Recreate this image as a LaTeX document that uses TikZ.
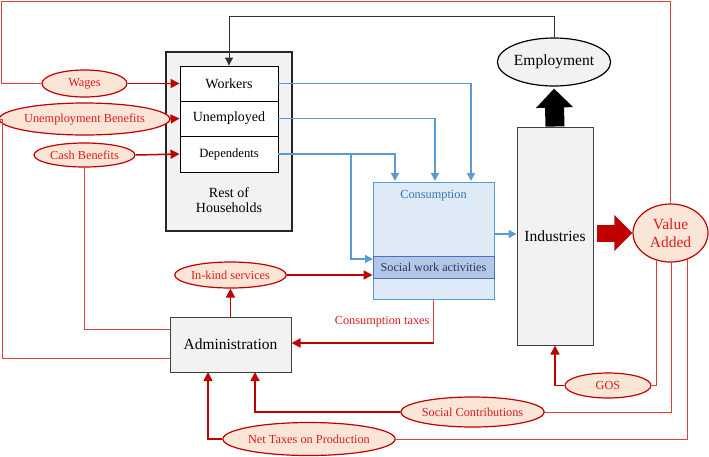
\documentclass[tikz,border=0pt]{standalone}
\usepackage{fontspec}
\setmainfont{Liberation Serif}
\usetikzlibrary{arrows.meta,shapes.geometric,calc}
\definecolor{redtxt}{RGB}{218,30,30}
\definecolor{redline}{RGB}{224,64,64}
\definecolor{darkred}{RGB}{192,0,0}
\definecolor{peach}{RGB}{251,229,214}
\definecolor{lgray}{RGB}{242,242,242}
\definecolor{bline}{RGB}{91,155,213}
\definecolor{bfill}{RGB}{222,235,247}
\definecolor{bfill2}{RGB}{180,199,231}
\definecolor{bdraw2}{RGB}{68,114,196}
\definecolor{btxt}{RGB}{31,56,100}
\definecolor{ctxt}{RGB}{46,117,182}
\newcommand{\szL}{\fontsize{15.5}{18}\selectfont}
\newcommand{\szM}{\fontsize{14}{14.5}\selectfont}
\newcommand{\szS}{\fontsize{12.3}{14}\selectfont}
\tikzset{
  graybox/.style={rectangle, draw=black!75, fill=lgray, line width=1pt, inner sep=0pt},
  whitebox/.style={rectangle, draw=black, fill=white, line width=0.9pt, inner sep=0pt, minimum width=98pt},
  redell/.style={ellipse, draw=darkred, fill=peach, line width=1.2pt, inner sep=0pt, text=redtxt, font=\szS},
  thinred/.style={draw=redline, line width=0.9pt},
  redarrow/.style={draw=darkred, line width=1.5pt, -{Triangle[width=9pt,length=9pt]}},
  bluearrow/.style={draw=bline, line width=1.3pt, -{Triangle[width=8pt,length=8pt]}},
}
\begin{document}
\begin{tikzpicture}[x=1pt,y=-1pt]
\useasboundingbox (0,0) rectangle (709,456);
% Rest of households
\node[graybox, draw=black!85, line width=1.8pt, minimum width=126pt, minimum height=179pt] (rh) at (229,141.5) {};
\node[font=\szM, align=center] (rhl) at (229,200) {Rest of\\Households};
\node[whitebox, minimum height=35pt, font=\szM] (wk) at (229,83.5) {Workers};
\node[whitebox, minimum height=35pt, font=\szM] (un) at (229,118.5) {Unemployed};
\node[whitebox, minimum height=36pt, font=\fontsize{12.6}{14}\selectfont] (dp) at (229,154) {Dependents};
% Employment, industries, VA
\node[ellipse, draw=black, fill=lgray, line width=1.2pt, minimum width=96pt, minimum height=48pt, inner sep=0pt, font=\szL] (emp) at (554,62) {Employment};
\node[graybox, minimum width=76pt, minimum height=218pt, font=\szL] (ind) at (555,236) {};
\node[font=\szL] (indl) at (555,236) {Industries};
\node[redell, minimum width=75pt, minimum height=58pt, font=\szL, align=center] (va) at (670.5,233) {Value\\Added};
% Consumption
\node[rectangle, draw=bline, fill=bfill, line width=1pt, minimum width=121pt, minimum height=117pt, inner sep=0pt] (cons) at (433.5,240.5) {};
\node[text=ctxt, font=\szS] (consl) at (433.5,196) {Consumption};
\node[rectangle, draw=bdraw2, fill=bfill2, line width=1pt, minimum width=121pt, minimum height=22pt, inner sep=0pt, text=btxt, font=\fontsize{12.2}{14}\selectfont] (sw) at (433.5,267) {Social work activities};
% Administration etc
\node[graybox, minimum width=121pt, minimum height=55pt, font=\szL] (adm) at (230.5,344.5) {Administration};
\node[redell, minimum width=101pt, minimum height=26pt] (ik) at (230.5,275) {In-kind services};
\node[redell, minimum width=86pt, minimum height=25pt] (gos) at (608,385.5) {GOS};
\node[redell, minimum width=137pt, minimum height=30pt] (sc) at (472.5,412) {Social Contributions};
\node[redell, minimum width=152pt, minimum height=33pt] (ntp) at (309,439) {Net Taxes on Production};
\node[redell, minimum width=85pt, minimum height=27pt] (wg) at (84.5,83.5) {Wages};
\node[redell, minimum width=155pt, minimum height=32pt] (ub) at (84.5,119) {Unemployment Benefits};
\node[redell, minimum width=101pt, minimum height=24pt] (cb) at (84.5,155) {Cash Benefits};
\node[text=redtxt, font=\szS, anchor=east] (ctl) at (433,322) {Consumption taxes};
% coordinates
\coordinate (bk) at (554,16);
\coordinate (tl) at (1,1);
\coordinate (tr) at (670.5,1);
\coordinate (ubc) at (2,358);
\coordinate (adw1) at (170,329);
\coordinate (adw2) at (170,358);
\coordinate (c1) at (395,181);
\coordinate (c2) at (435,181);
\coordinate (c3) at (471,181);
\coordinate (bj) at (351,155);
\coordinate (sw1) at (373,259);
\coordinate (ct) at (433.5,343);
\coordinate (vg) at (656,261);
\coordinate (vs) at (671,262);
\coordinate (vn) at (687,259);
\coordinate (ads) at (255,372);
\coordinate (adn) at (208,372);
% black connectors
\draw[draw=black!80, line width=1pt, -{Triangle[width=8pt,length=8pt]}] (emp.north) -- (bk) -| (wk.north);
\draw[line width=19pt, -{Triangle[width=36pt,length=19pt]}, shorten >=2pt] (ind.north) -- (emp.south);
% big red arrow
\draw[darkred, line width=17pt, -{Triangle[width=35pt,length=18pt]}, shorten <=3pt] (va.west -| ind.east) -- (va.west);
% blue connectors
\draw[bluearrow] (wk.east) -| (c3);
\draw[bluearrow] (un.east) -| (c2);
\draw[bluearrow] (dp.east) -| (c1);
\draw[bluearrow] (bj) |- (sw1);
\draw[bluearrow] ($(cons.east)+(0,-6.5)$) -- ($(cons.east -| ind.west)+(0,-6.5)$);
% red thin source lines
\draw[thinred] (wg.west) -| (tl) -- (tr) -- (va.north);
\draw[thinred] (ub.west) -| (ubc) -- (adw2);
\draw[thinred] (cb.south) |- (adw1);
\draw[thinred] (cons.south) -- (ct);
\draw[thinred] (vg) |- (gos.east);
\draw[thinred] (vs) |- (sc.east);
\draw[thinred] (vn) |- (ntp.east);
% red arrows
\draw[redarrow] (wg.east) -- (wk.west);
\draw[redarrow] (ub.east) -- (un.west);
\draw[redarrow] (cb.east) -- (dp.west);
\draw[redarrow] (adm.north) -- (ik.south);
\draw[redarrow] (ik.east) -- (ik.east -| sw.west);
\draw[redarrow] (ct) -- (ct -| adm.east);
\draw[redarrow] (gos.west) -| (ind.south);
\draw[redarrow] (sc.west) -| (ads);
\draw[redarrow] (ntp.west) -| (adn);
\end{tikzpicture}
\end{document}
